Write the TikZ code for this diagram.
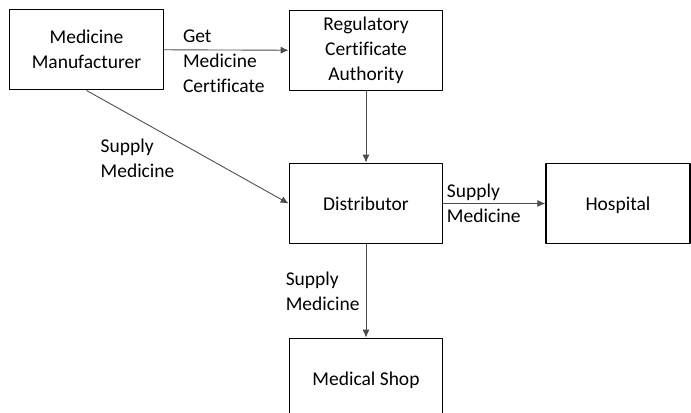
\documentclass[tikz,border=0pt]{standalone}
\usepackage{fontspec}
\setmainfont[Ligatures=NoCommon]{Carlito}
\usetikzlibrary{arrows.meta}
\begin{document}
\begin{tikzpicture}[x=0.02cm, y=-0.02cm, line join=round, >={Latex[length=4.5pt,width=4pt]},
		box/.style={draw, line width=0.8pt, align=center, inner sep=0pt, minimum width=3.07cm, minimum height=1.61cm, font=\fontsize{11.1}{14.2}\selectfont},
		conn/.style={->, black!70, line width=0.5pt},
		lbl/.style={align=left, inner sep=0pt, text=black, font=\fontsize{11.1}{14.2}\selectfont}]
	\clip (0,0) rectangle (691,413);
	\node[box] (manu) at (86.5,49.5) {Medicine\\Manufacturer};
	\node[box] (reg) at (366,50.5) {Regulatory\\Certificate\\Authority};
	\node[box] (dist) at (366,203.5) {Distributor};
	\node[box, minimum width=2.88cm, text depth=0pt] (hosp) at (618,203.5) {Hospital};
	\node[box, text depth=0pt] (shop) at (366,378.5) {Medical Shop};
	% connectors
	\draw[conn] (manu) -- (reg) node[lbl, anchor=west, pos=0.15, yshift=-0.23cm] {Get\\Medicine\\Certificate};
	\draw[conn] (manu.south) -- (dist.west) node[lbl, pos=0.5, xshift=-1cm, yshift=-0.22cm] {Supply\\Medicine};
	\draw[conn] (reg) -- (dist);
	\draw[conn] (dist) -- (hosp) node[lbl, anchor=west, pos=0.03] {Supply\\Medicine};
	\draw[conn] (dist) -- (shop) node[lbl, anchor=east, pos=0.5, xshift=-0.12cm] {Supply\\Medicine};
\end{tikzpicture}
\end{document}
